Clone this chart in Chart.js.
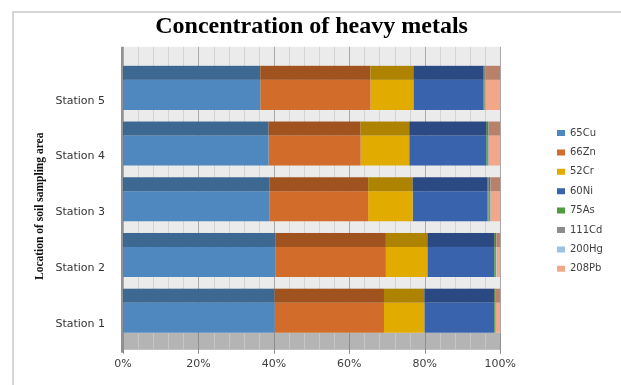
<!DOCTYPE html>
<html>
<head>
<meta charset="utf-8">
<title>Concentration of heavy metals</title>
<script src="https://cdn.jsdelivr.net/npm/chart.js@4/dist/chart.umd.min.js"></script>
<style>
  html, body { margin: 0; padding: 0; background: #ffffff; }
  #wrap { width: 621px; height: 385px; position: relative; }
  canvas { display: block; }
</style>
</head>
<body>
<div id="wrap"><canvas id="chart" width="621" height="385"></canvas></div>
<script>
// Share of each metal (%) per sampling station
const stations = ['Station 1', 'Station 2', 'Station 3', 'Station 4', 'Station 5'];
const metals   = ['65Cu', '66Zn', '52Cr', '60Ni', '75As', '111Cd', '200Hg', '208Pb'];
const copper   = [40.2, 40.5, 38.9, 38.6, 36.4];
const zinc     = [29.0, 29.2, 26.1, 24.4, 29.2];
const chromium = [10.7, 11.0, 11.8, 12.9, 11.4];
const nickel   = [18.5, 17.7, 19.8, 20.4, 18.6];
const arsenic  = [0.2, 0.2, 0.3, 0.2, 0.2];
const cadmium  = [0.2, 0.3, 0.5, 0.4, 0.3];
const mercury  = [0.1, 0.1, 0.1, 0.1, 0.1];
const lead     = [1.1, 1.0, 2.5, 3.0, 3.8];
const percentTicks = [0, 20, 40, 60, 80, 100];

const seriesValues = [copper, zinc, chromium, nickel, arsenic, cadmium, mercury, lead];
const frontColors = ['#4f88bf', '#d26c2a', '#e2ab00', '#3a63ae', '#4e9a3c', '#8c8c8c', '#9cc2e5', '#f2a789'];
const topColors   = ['#3c6891', '#a0531f', '#ad8300', '#2b4a84', '#3b7530', '#6a6a6a', '#7593ae', '#b9806a'];

const DEPTH = 14;        // height of the bar's top face
const WALL_ABOVE = 19;   // back wall visible above the top bar
const FLOOR_H = 17;      // floor thickness under the bottom bar

// Back wall, floor and outer frame behind the bars; top faces after them
const scene3d = {
  id: 'scene3d',
  beforeDraw(chart) {
    const ctx = chart.ctx;
    ctx.save();
    ctx.strokeStyle = '#d6d6d6';
    ctx.lineWidth = 2;
    ctx.beginPath();
    ctx.moveTo(13, 385);
    ctx.lineTo(13, 12);
    ctx.lineTo(621, 12);
    ctx.stroke();
    ctx.restore();
  },
  beforeDatasetsDraw(chart) {
    const { ctx, scales: { x } } = chart;
    const meta = chart.getDatasetMeta(0);
    const bottomBar = meta.data[0];
    const topBar = meta.data[meta.data.length - 1];
    const floorTop = bottomBar.y + bottomBar.height / 2;
    const wallTop = topBar.y - topBar.height / 2 - DEPTH - WALL_ABOVE;
    const left = x.getPixelForValue(0);
    const right = x.getPixelForValue(100);
    ctx.save();
    // back wall
    ctx.fillStyle = '#ebebeb';
    ctx.fillRect(left, wallTop, right - left, floorTop - wallTop);
    for (let v = 0; v <= 100; v += 4) {
      const px = Math.round(x.getPixelForValue(v)) + 0.5;
      ctx.strokeStyle = v % 20 === 0 ? '#a9a9a9' : '#d3d3d3';
      ctx.lineWidth = 1;
      ctx.beginPath();
      ctx.moveTo(px, wallTop);
      ctx.lineTo(px, floorTop);
      ctx.stroke();
    }
    // floor
    ctx.fillStyle = '#b4b4b4';
    ctx.fillRect(left, floorTop, right - left, FLOOR_H);
    for (let v = 0; v <= 100; v += 4) {
      const px = Math.round(x.getPixelForValue(v)) + 0.5;
      const major = v % 20 === 0;
      ctx.strokeStyle = major ? '#8e8e8e' : '#c6c6c6';
      ctx.beginPath();
      ctx.moveTo(px, floorTop);
      ctx.lineTo(px, floorTop + FLOOR_H + (major ? 4 : 0));
      ctx.stroke();
    }
    // left edge of the wall
    ctx.strokeStyle = '#929292';
    ctx.lineWidth = 2;
    ctx.beginPath();
    ctx.moveTo(left - 1, wallTop);
    ctx.lineTo(left - 1, floorTop + FLOOR_H + 3);
    ctx.stroke();
    ctx.restore();
  },
  afterDatasetsDraw(chart) {
    const ctx = chart.ctx;
    ctx.save();
    chart.data.datasets.forEach((ds, i) => {
      const meta = chart.getDatasetMeta(i);
      ctx.fillStyle = topColors[i];
      meta.data.forEach(el => {
        const x0 = Math.min(el.base, el.x);
        const w = Math.abs(el.x - el.base);
        if (w <= 0) return;
        ctx.fillRect(x0, el.y - el.height / 2 - DEPTH, w, DEPTH);
      });
    });
    ctx.restore();
  },
  afterLayout(chart) {
    // legend column sits off to the right of the plot
    const lg = chart.legend;
    const pad = lg.options.labels.padding;
    const w = lg.right - lg.left;
    const h = lg.bottom - lg.top;
    lg.left = 557 - pad;
    lg.right = lg.left + w;
    lg.top = 133 - 5 - pad;
    lg.bottom = lg.top + h;
  }
};

const datasets = metals.map((name, i) => ({
  label: name,
  data: seriesValues[i],
  backgroundColor: frontColors[i],
  borderWidth: 0,
  barPercentage: 0.54,
  categoryPercentage: 1.0
}));

new Chart(document.getElementById('chart'), {
  type: 'bar',
  data: { labels: stations, datasets },
  options: {
    indexAxis: 'y',
    responsive: false,
    animation: false,
    layout: { padding: { left: 27, right: 55.5, top: 0, bottom: 3 } },
    scales: {
      x: {
        stacked: true,
        min: 0,
        max: 100,
        afterBuildTicks(scale) { scale.ticks = percentTicks.map(v => ({ value: v })); },
        ticks: {
          callback: v => v + '%',
          padding: 11.6,
          color: '#404040',
          font: { family: 'DejaVu Sans', size: 11 }
        },
        grid: { display: false, drawTicks: false },
        border: { display: false }
      },
      y: {
        stacked: true,
        reverse: true,
        afterFit(scale) { scale.width = 96; },
        ticks: {
          padding: 18,
          labelOffset: 6,
          color: '#333333',
          font: { family: 'DejaVu Sans', size: 11 }
        },
        grid: { display: false, drawTicks: false },
        border: { display: false },
        title: {
          display: true,
          text: 'Location of soil sampling area',
          color: '#111111',
          font: { family: 'Liberation Serif', size: 11.5, weight: 'bold' },
          padding: { top: 6, bottom: 6 }
        }
      }
    },
    plugins: {
      title: {
        display: true,
        fullSize: false,
        text: 'Concentration of heavy metals',
        color: '#000000',
        font: { family: 'Liberation Serif', size: 24, weight: 'bold' },
        padding: { top: 12, bottom: 26.2 }
      },
      legend: {
        position: 'right',
        align: 'start',
        labels: {
          boxWidth: 8,
          boxHeight: 6,
          padding: 9.4,
          color: '#404040',
          font: { family: 'DejaVu Sans', size: 10 }
        }
      },
      tooltip: { enabled: false }
    }
  },
  plugins: [scene3d]
});
</script>
</body>
</html>
